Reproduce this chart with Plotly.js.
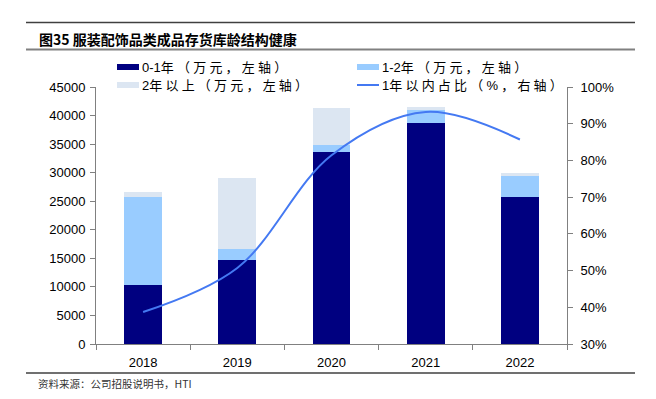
<!DOCTYPE html>
<html>
<head>
<meta charset="utf-8">
<script src="https://cdn.plot.ly/plotly-3.0.1.min.js"></script>
<style>html,body{margin:0;padding:0;background:#fff;}#chart{width:656px;height:399px;}</style>
</head>
<body>
<div id="chart"></div>
<script>
const years = ['2018', '2019', '2020', '2021', '2022'];
const age0to1 = [10300, 14700, 33700, 38750, 25700];
const age1to2 = [15400, 1900, 1150, 2200, 3700];
const age2plus = [900, 12400, 6550, 600, 600];
const shareWithin1 = [38.7, 50.7, 81.4, 93.2, 85.7];

const seriesLabels = [['0-1', '年（万元，左轴）'], ['1-2', '年（万元，左轴）'], ['2', '年以上（万元，左轴）'], ['1', '年以内占比（%，右轴）']];
const colors = ['#000080', '#99CCFF', '#DCE6F2', '#4479F2'];
const font = '"Liberation Sans", "Noto Sans CJK SC", Arial, sans-serif';

const W = 656, H = 399, L = 96, R = 89, T = 87, B = 55;
const pw = W - L - R, ph = H - T - B;
const px = x => (x - L) / pw;
const py = y => (H - B - y) / ph;

const traces = [
  {type: 'bar', name: seriesLabels[0].join(''), x: years, y: age0to1, marker: {color: colors[0]}},
  {type: 'bar', name: seriesLabels[1].join(''), x: years, y: age1to2, marker: {color: colors[1]}},
  {type: 'bar', name: seriesLabels[2].join(''), x: years, y: age2plus, marker: {color: colors[2]}},
  {type: 'scatter', mode: 'lines', name: seriesLabels[3].join(''), x: years, y: shareWithin1, yaxis: 'y2',
   line: {color: colors[3], width: 2, shape: 'spline', smoothing: 1}}
];

// legend placement (pixel positions of each entry)
const legendPos = [[117, 67], [357, 67], [117, 85], [357, 85]];
const shapes = [
  {type: 'line', xref: 'paper', yref: 'paper', x0: px(26), x1: px(635), y0: py(22.5), y1: py(22.5),
   line: {color: '#404040', width: 1.5}},
  {type: 'line', xref: 'paper', yref: 'paper', x0: px(26), x1: px(635), y0: py(49.5), y1: py(49.5),
   line: {color: '#808080', width: 2}},
  {type: 'line', xref: 'paper', yref: 'paper', x0: px(26), x1: px(635), y0: py(373), y1: py(373),
   line: {color: '#404040', width: 1.5}}
];
const annotations = [
  {xref: 'paper', yref: 'paper', x: px(37), y: py(39), xanchor: 'left', yanchor: 'middle',
   showarrow: false, text: '<b>图35 服装配饰品类成品存货库龄结构健康</b>',
   font: {family: '"Noto Sans CJK SC", sans-serif', size: 14, color: '#000'}},
  {xref: 'paper', yref: 'paper', x: px(36), y: py(383), xanchor: 'left', yanchor: 'middle',
   showarrow: false, text: '资料来源：公司招股说明书，HTI',
   font: {family: '"Noto Sans CJK SC", sans-serif', size: 10.5, color: '#333'}}
];
legendPos.forEach(([lx, ly], i) => {
  if (i < 3) {
    shapes.push({type: 'rect', xref: 'paper', yref: 'paper', x0: px(lx), x1: px(lx + 22),
                 y0: py(ly - 3), y1: py(ly + 3), fillcolor: colors[i], line: {width: 0}});
  } else {
    shapes.push({type: 'line', xref: 'paper', yref: 'paper', x0: px(lx), x1: px(lx + 22),
                 y0: py(ly), y1: py(ly), line: {color: colors[i], width: 2}});
  }
  annotations.push({xref: 'paper', yref: 'paper', x: px(lx + 23), y: py(ly), xanchor: 'left', yanchor: 'middle',
    showarrow: false,
    text: seriesLabels[i][0] + '<span style="letter-spacing:3.2px">' + seriesLabels[i][1] + '</span>',
    font: {family: font, size: 13, color: '#000'}});
});

const layout = {
  width: W, height: H,
  margin: {l: L, r: R, t: T, b: B, pad: 0},
  paper_bgcolor: '#fff', plot_bgcolor: '#fff',
  barmode: 'stack', bargap: 0.6,
  showlegend: false,
  xaxis: {type: 'category', showline: true, linecolor: '#808080', linewidth: 1,
          ticks: 'outside', tickson: 'boundaries', ticklen: 5, tickcolor: '#808080',
          tickfont: {family: font, size: 13, color: '#000'}, showgrid: false, zeroline: false,
          ticklabelstandoff: 6},
  yaxis: {range: [0, 45000], dtick: 5000, showline: true, linecolor: '#808080', linewidth: 1,
          ticks: 'outside', ticklen: 5, tickcolor: '#808080', showgrid: false, zeroline: false,
          tickfont: {family: font, size: 13, color: '#000'}, tickformat: 'd', ticklabelstandoff: 2},
  yaxis2: {range: [30, 100], dtick: 10, overlaying: 'y', side: 'right', showline: true,
           linecolor: '#808080', linewidth: 1, ticks: 'outside', ticklen: 5, tickcolor: '#808080',
           showgrid: false, zeroline: false, ticksuffix: '%', ticklabelstandoff: 5,
           tickfont: {family: font, size: 13, color: '#000'}},
  shapes: shapes,
  annotations: annotations
};

Plotly.newPlot('chart', traces, layout, {displayModeBar: false, staticPlot: true});
</script>
</body>
</html>
